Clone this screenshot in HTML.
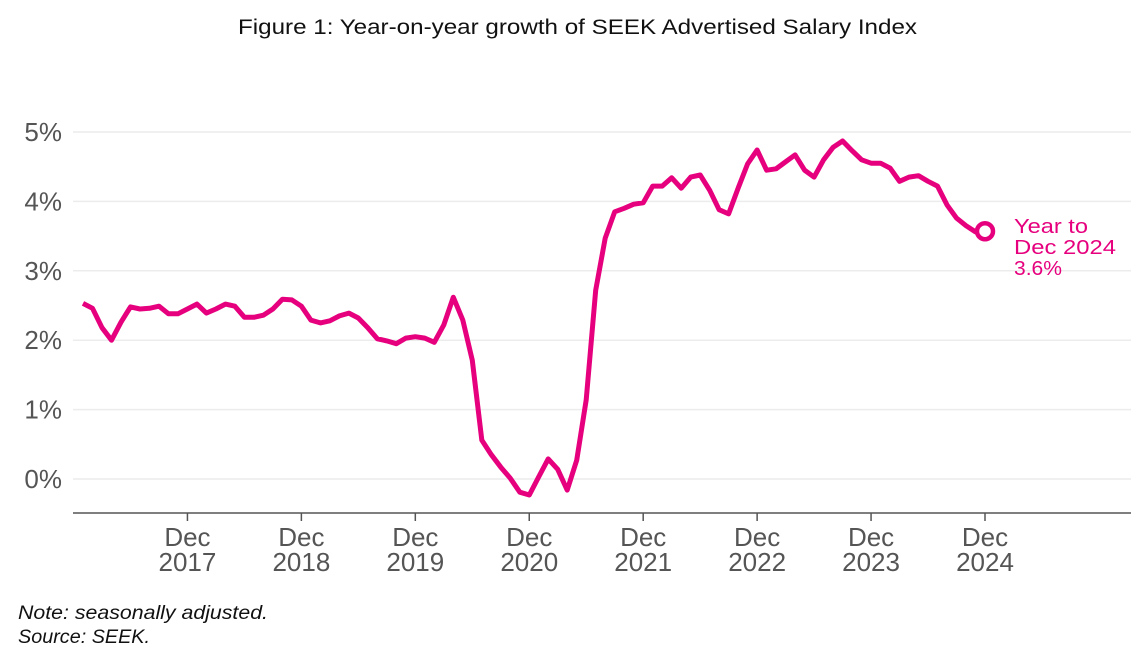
<!DOCTYPE html>
<html><head><meta charset="utf-8"><style>
body{margin:0;background:#fff;width:1131px;height:653px;overflow:hidden;font-family:"Liberation Sans",sans-serif}
svg{display:block}
</style></head><body>
<svg width="1131" height="653" id="c">
<text x="238" y="34" font-size="21" fill="#111" textLength="679" lengthAdjust="spacingAndGlyphs">Figure 1: Year-on-year growth of SEEK Advertised Salary Index</text>
<g id="grid"></g><g id="yt"></g><g id="xt"></g>
<line x1="73" x2="1131" y1="513" y2="513" stroke="#555" stroke-width="1.5"/>
<path id="line" fill="none" stroke="#e6007e" stroke-width="5" stroke-linejoin="round"/>
<circle id="dot" r="8" fill="#fff" stroke="#e6007e" stroke-width="4.5"/>
<text font-size="20" fill="#e6007e"><tspan x="1014" y="233" textLength="74" lengthAdjust="spacingAndGlyphs">Year to</tspan><tspan x="1014" y="254" textLength="102" lengthAdjust="spacingAndGlyphs">Dec 2024</tspan><tspan x="1014" y="275" textLength="48" lengthAdjust="spacingAndGlyphs">3.6%</tspan></text>
<text x="18" y="619" font-size="19" font-style="italic" fill="#111" textLength="250" lengthAdjust="spacingAndGlyphs">Note: seasonally adjusted.</text>
<text x="18" y="643" font-size="19" font-style="italic" fill="#111" textLength="132" lengthAdjust="spacingAndGlyphs">Source: SEEK.</text>
</svg>
<script>
const yTicks=[0,1,2,3,4,5];
const xLabels=["2017","2018","2019","2020","2021","2022","2023","2024"];
const values=[2.53,2.46,2.18,2.0,2.26,2.48,2.45,2.46,2.49,2.38,2.38,2.45,
2.52,2.39,2.45,2.52,2.49,2.33,2.33,2.36,2.45,2.59,2.58,2.49,
2.29,2.25,2.28,2.35,2.39,2.32,2.18,2.02,1.99,1.95,2.03,2.05,
2.03,1.97,2.22,2.62,2.29,1.71,0.56,0.35,0.17,0.01,-0.19,-0.23,
0.03,0.29,0.14,-0.16,0.27,1.14,2.72,3.47,3.85,3.90,3.96,3.98,
4.22,4.22,4.34,4.19,4.35,4.38,4.16,3.88,3.82,4.19,4.54,4.74,
4.45,4.47,4.57,4.67,4.45,4.35,4.60,4.78,4.87,4.73,4.60,4.55,
4.55,4.48,4.29,4.35,4.37,4.29,4.22,3.95,3.76,3.65,3.56,3.57];
const NS="http://www.w3.org/2000/svg";
const y=v=>479-v*69.4;
const x=i=>83+i*(985-83)/95;
const g=document.getElementById('grid'),yt=document.getElementById('yt'),xt=document.getElementById('xt');
yTicks.forEach(t=>{
 const l=document.createElementNS(NS,'line');
 l.setAttribute('x1',73);l.setAttribute('x2',1131);l.setAttribute('y1',y(t));l.setAttribute('y2',y(t));
 l.setAttribute('stroke','#ececec');l.setAttribute('stroke-width','1.5');
 
 
 g.appendChild(l);
 const tx=document.createElementNS(NS,'text');
 tx.setAttribute('x',62);tx.setAttribute('y',y(t)+9);tx.setAttribute('text-anchor','end');
 tx.setAttribute('font-size','26');tx.setAttribute('fill','#555');tx.textContent=t+'%';
 
 
 yt.appendChild(tx);
});
xLabels.forEach((lab,k)=>{
 const xi=x(11+12*k);
 const tk=document.createElementNS(NS,'line');
 tk.setAttribute('x1',xi);tk.setAttribute('x2',xi);tk.setAttribute('y1',513);tk.setAttribute('y2',521);
 tk.setAttribute('stroke','#555');tk.setAttribute('stroke-width','1.5');
 
 
 xt.appendChild(tk);
 const tx=document.createElementNS(NS,'text');
 tx.setAttribute('text-anchor','middle');tx.setAttribute('font-size','26');tx.setAttribute('fill','#555');
 
 
 tx.innerHTML='<tspan x="'+xi+'" y="546">Dec</tspan><tspan x="'+xi+'" y="571">'+lab+'</tspan>';
 xt.appendChild(tx);
});
document.getElementById('line').setAttribute('d',values.map((v,i)=>(i?'L':'M')+x(i).toFixed(1)+','+y(v).toFixed(1)).join(''));
const d=document.getElementById('dot');const n=values.length-1;
d.setAttribute('cx',x(n));d.setAttribute('cy',y(values[n]));
</script>
</body></html>
